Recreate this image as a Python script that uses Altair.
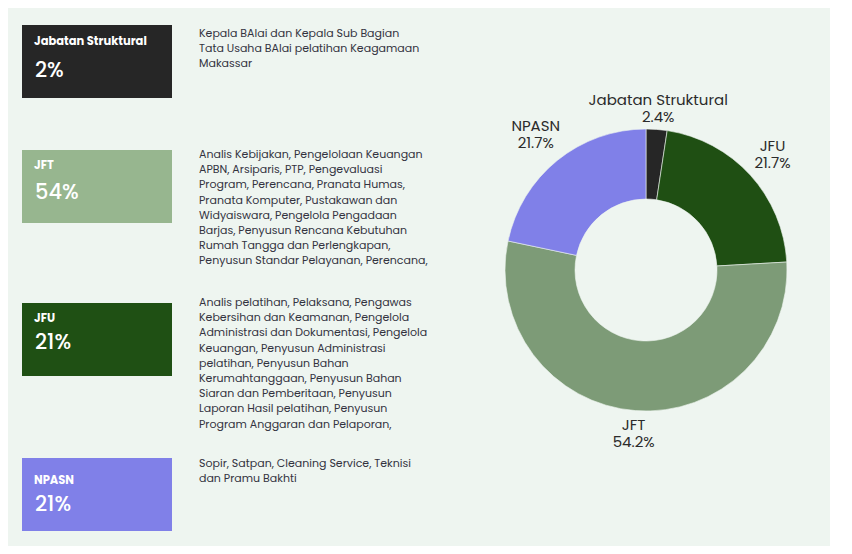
import altair as alt
import pandas as pd
import math

# ---------------- data ----------------
categories = ["Jabatan Struktural", "JFU", "JFT", "NPASN"]          # clockwise order in donut
shares = [2.4, 21.7, 54.2, 21.7]
donut_colors = ["#262626", "#1f4f13", "#7d9b77", "#8080e8"]

card_titles = ["Jabatan Struktural", "JFT", "JFU", "NPASN"]
card_shares = [2.4, 54.2, 21.7, 21.7]
card_colors = ["#262626", "#97b68f", "#1f5014", "#8080e8"]
card_descriptions = [
    ["Kepala BAlai dan Kepala Sub Bagian",
     "Tata Usaha BAlai pelatihan Keagamaan",
     "Makassar"],
    ["Analis Kebijakan, Pengelolaan Keuangan",
     "APBN, Arsiparis, PTP, Pengevaluasi",
     "Program, Perencana, Pranata Humas,",
     "Pranata Komputer, Pustakawan dan",
     "Widyaiswara, Pengelola Pengadaan",
     "Barjas, Penyusun Rencana Kebutuhan",
     "Rumah Tangga dan Perlengkapan,",
     "Penyusun Standar Pelayanan, Perencana,"],
    ["Analis pelatihan, Pelaksana, Pengawas",
     "Kebersihan dan Keamanan, Pengelola",
     "Administrasi dan Dokumentasi, Pengelola",
     "Keuangan, Penyusun Administrasi",
     "pelatihan, Penyusun Bahan",
     "Kerumahtanggaan, Penyusun Bahan",
     "Siaran dan Pemberitaan, Penyusun",
     "Laporan Hasil pelatihan, Penyusun",
     "Program Anggaran dan Pelaporan,"],
    ["Sopir, Satpan, Cleaning Service, Teknisi",
     "dan Pramu Bakhti"],
]

# ---------------- layout (pixel positions, chart coords) ----------------
OFF = 8
card_tops = [25, 150, 303, 458]
card_title_y = [42, 166, 319, 481]
card_pct_y = [71, 193, 343, 505]
card_text_top = [28, 149, 297, 458]
label_radius = [162, 171, 164, 175]
CX, CY = 646 - OFF, 270 - OFF
FONT = "Poppins, Inter, sans-serif"

layers = []
for i, title in enumerate(card_titles):
    one = pd.DataFrame({"title": [title], "share": [card_shares[i]]})
    top = card_tops[i] - OFF
    box = alt.Chart(one).mark_rect(color=card_colors[i]).encode(
        x=alt.value(22 - OFF), x2=alt.value(172 - OFF),
        y=alt.value(top), y2=alt.value(top + 73),
    )
    ttl = alt.Chart(one).mark_text(
        align="left", baseline="middle", font=FONT, fontSize=11.5,
        fontWeight="bold", color="white",
    ).encode(
        x=alt.value(34 - OFF), y=alt.value(card_title_y[i] - OFF), text="title:N"
    )
    pct = alt.Chart(one).transform_calculate(
        lab="floor(datum.share) + '%'"
    ).mark_text(
        align="left", baseline="middle", font=FONT, fontSize=21, fontWeight=500,
        color="white",
    ).encode(
        x=alt.value(35 - OFF), y=alt.value(card_pct_y[i] - OFF), text="lab:N"
    )
    desc = alt.Chart(one).mark_text(
        align="left", baseline="top", font=FONT, fontSize=11, lineHeight=15.2,
        color="#33333f", lineBreak="\n",
    ).encode(
        x=alt.value(199 - OFF), y=alt.value(card_text_top[i] - OFF),
        text=alt.value("\n".join(card_descriptions[i])),
    )
    layers += [box, ttl, pct, desc]

donut_df = pd.DataFrame({
    "category": categories,
    "share": shares,
    "order": list(range(len(categories))),
    "r": label_radius,
})
color_scale = alt.Scale(domain=categories, range=donut_colors)

arcs = alt.Chart(donut_df).mark_arc(
    innerRadius=71, outerRadius=141, stroke="#eef5f0", strokeWidth=0.6
).encode(
    theta=alt.Theta("share:Q", stack=True),
    color=alt.Color("category:N", scale=color_scale, legend=None),
    order=alt.Order("order:Q"),
    x=alt.value(CX), y=alt.value(CY),
)

labels = alt.Chart(donut_df).transform_window(
    cum="sum(share)", sort=[alt.SortField("order")],
    frame=[None, 0],
).transform_joinaggregate(
    total="sum(share)"
).transform_calculate(
    mid="(datum.cum - datum.share / 2) / datum.total",
    lab="datum.category + '\\n' + format(datum.share, '.1f') + '%'",
).mark_text(
    font=FONT, fontSize=15, lineHeight=17, color="#2b2b2b",
    align="center", baseline="middle", lineBreak="\n", dy=-8.5,
).encode(
    theta=alt.Theta("mid:Q", stack=None,
                    scale=alt.Scale(domain=[0, 1], range=[0, 2 * math.pi])),
    radius=alt.Radius("r:Q", scale=None),
    text="lab:N",
    x=alt.value(CX), y=alt.value(CY),
)

layers += [arcs, labels]

chart = alt.layer(*layers).properties(
    width=822, height=538,
    autosize=alt.AutoSizeParams(type="none"),
    padding=0,
    background="#eef5f0",
).configure_view(stroke=None).resolve_scale(theta="independent")

chart.save("out.html", embed_options={"renderer": "svg", "actions": False})
